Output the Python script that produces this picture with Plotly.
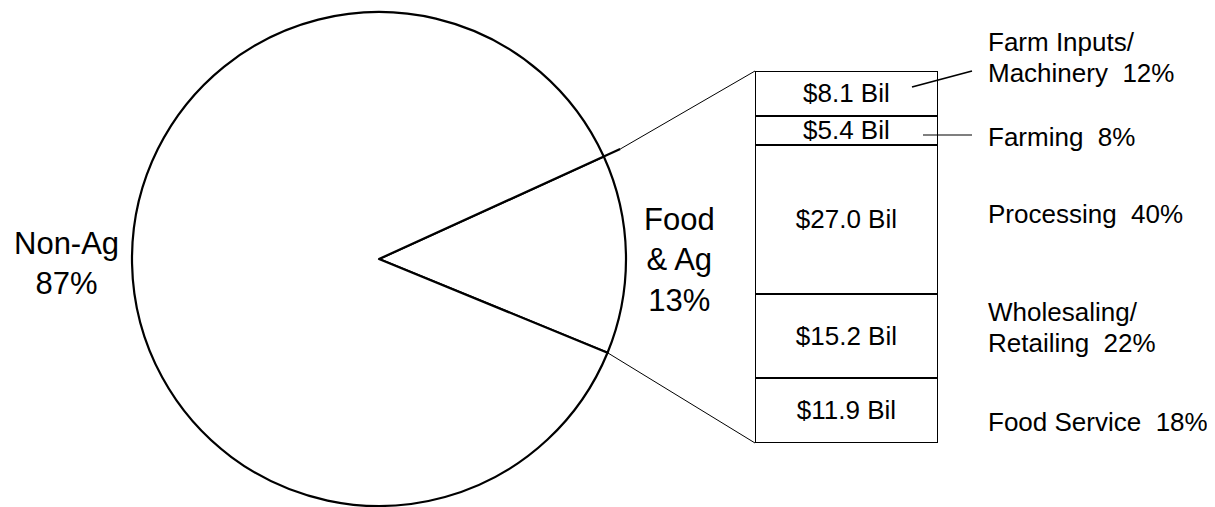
import math
import plotly.graph_objects as go

# pie: share of the economy
pie_labels = ['Food & Ag', 'Non-Ag']
pie_values = [13, 87]

# bar: breakdown of food & ag, bottom to top
segments = ['Food Service', 'Wholesaling/Retailing', 'Processing', 'Farming', 'Farm Inputs/Machinery']
billions = [11.9, 15.2, 27.0, 5.4, 8.1]
shares = [18, 22, 40, 8, 12]
bar_text = ['$11.9 Bil', '$15.2 Bil', '$27.0 Bil', '$5.4 Bil', '$8.1 Bil']

W, H = 1215, 507
OFF = 8  # page body margin
FONT = 'Liberation Sans, Arial, sans-serif'


def px(x):
    return (x - OFF) / W


def py(y):
    return 1 - (y - OFF) / H


# pie placement (window pixels)
pie_x0, pie_x1 = 130, 628
pie_top, pie_bot = 12, 506
cx = (pie_x0 + pie_x1) / 2
cy = (pie_top + pie_bot) / 2
r = min(pie_x1 - pie_x0, pie_bot - pie_top) / 2

# bar placement (window pixels)
bar_x0, bar_x1 = 755, 938
bar_top, bar_bot = 71, 443

fig = go.Figure()

slice_deg = pie_values[0] / sum(pie_values) * 360
start_deg = 65.5  # clockwise from 12 o'clock

fig.add_trace(go.Pie(
    labels=pie_labels, values=pie_values, sort=False,
    direction='clockwise', rotation=start_deg,
    textinfo='none', hoverinfo='none', showlegend=False,
    marker=dict(colors=['white', 'white'], line=dict(color='black', width=2.2)),
    domain=dict(x=[px(pie_x0), px(pie_x1)], y=[py(pie_bot), py(pie_top)]),
))

for i in range(len(segments)):
    fig.add_trace(go.Bar(
        x=['Food & Ag'], y=[billions[i]], name=segments[i],
        text=[bar_text[i]], textposition='inside', insidetextanchor='middle',
        textangle=0, constraintext='none',
        textfont=dict(family=FONT, size=26, color='black'),
        marker=dict(color='white', line=dict(color='black', width=2.2)),
        hoverinfo='none', showlegend=False,
    ))

fig.update_layout(
    width=W, height=H, margin=dict(l=0, r=0, t=0, b=0),
    paper_bgcolor='white', plot_bgcolor='white',
    barmode='stack', bargap=0,
    font=dict(family=FONT, color='black'),
    xaxis=dict(domain=[px(bar_x0), px(bar_x1)], range=[-0.5, 0.5], visible=False, fixedrange=True),
    yaxis=dict(domain=[py(bar_bot), py(bar_top)], range=[0, sum(billions)], visible=False, fixedrange=True),
)

# connector lines from the pie slice edges to the bar corners
a_up = math.radians(90 - start_deg)
a_dn = math.radians(90 - start_deg - slice_deg)
up = (cx + r * math.cos(a_up), cy - r * math.sin(a_up))
dn = (cx + r * math.cos(a_dn), cy - r * math.sin(a_dn))
up_ext = (cx + (r + 18) * math.cos(a_up), cy - (r + 18) * math.sin(a_up))

shapes = [
    dict(type='line', xref='paper', yref='paper', x0=px(up[0]), y0=py(up[1]),
         x1=px(up_ext[0]), y1=py(up_ext[1]), line=dict(color='black', width=2.2)),
    dict(type='line', xref='paper', yref='paper', x0=px(up_ext[0]), y0=py(up_ext[1]),
         x1=px(bar_x0), y1=py(bar_top), line=dict(color='black', width=1)),
    dict(type='line', xref='paper', yref='paper', x0=px(dn[0]), y0=py(dn[1]),
         x1=px(bar_x0), y1=py(bar_bot), line=dict(color='black', width=1)),
    # leaders for the two thin segments
    dict(type='line', xref='paper', yref='paper', x0=px(912), y0=py(87),
         x1=px(972), y1=py(71), line=dict(color='black', width=1.8)),
    dict(type='line', xref='paper', yref='paper', x0=px(923), y0=py(135),
         x1=px(972), y1=py(135), line=dict(color='black', width=1.2)),
]
fig.update_layout(shapes=shapes)

sp = '\u00a0\u00a0'
annotations = [
    dict(x=px(67), y=py(263), text='Non-Ag<br>87%', font=dict(size=31)),
    dict(x=px(680), y=py(260), text='Food<br>& Ag<br>13%', font=dict(size=31)),
    dict(x=px(986), y=py(42), text='Farm Inputs/', xanchor='left'),
    dict(x=px(986), y=py(73), text=f'Machinery{sp}{shares[4]}%', xanchor='left'),
    dict(x=px(986), y=py(137), text=f'Farming{sp}{shares[3]}%', xanchor='left'),
    dict(x=px(986), y=py(214), text=f'Processing{sp}{shares[2]}%', xanchor='left'),
    dict(x=px(986), y=py(312), text='Wholesaling/', xanchor='left'),
    dict(x=px(986), y=py(343), text=f'Retailing{sp}{shares[1]}%', xanchor='left'),
    dict(x=px(986), y=py(422), text=f'Food Service{sp}{shares[0]}%', xanchor='left'),
]
for a in annotations:
    a.setdefault('xref', 'paper')
    a.setdefault('yref', 'paper')
    a.setdefault('xanchor', 'center')
    a['yanchor'] = 'middle'
    a.setdefault('showarrow', False)
    a.setdefault('font', dict(size=26))
    a['align'] = 'left' if a['xanchor'] == 'left' else 'center'
    a['font'] = dict(family=FONT, color='black', **a['font'])
fig.update_layout(annotations=annotations)

fig.write_html('out.html')
